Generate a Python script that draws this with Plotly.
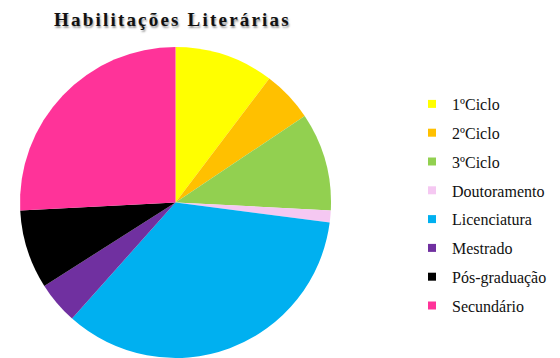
import plotly.graph_objects as go

labels = ["1ºCiclo", "2ºCiclo", "3ºCiclo", "Doutoramento", "Licenciatura",
          "Mestrado", "Pós-graduação", "Secundário"]
values = [10.3, 5.3, 10.2, 1.25, 34.5, 4.4, 8.2, 25.8]
colors = ["#FFFF00", "#FFC000", "#92D050", "#F5C8F2", "#00B0F0",
          "#7030A0", "#000000", "#FF3399"]
title_text = "Habilitações Literárias"

W, H = 560, 358
OFF = 8  # page offset of the figure
cx, cy, r = 175.5 - OFF, 202.5 - OFF, 155.5

fig = go.Figure()
fig.add_trace(go.Pie(
    labels=labels, values=values, sort=False, direction="clockwise", rotation=0,
    marker=dict(colors=colors, line=dict(width=0)),
    textinfo="none", hoverinfo="label+percent", showlegend=False,
    domain=dict(x=[(cx - r) / W, (cx + r) / W], y=[1 - (cy + r) / H, 1 - (cy - r) / H]),
))
for lab, col in zip(labels, colors):
    fig.add_trace(go.Scatter(
        x=[None], y=[None], mode="markers", name=lab, legendgroup=lab,
        marker=dict(symbol="square", size=8, color=col), showlegend=True,
    ))

fig.add_annotation(
    text="<b><span style='letter-spacing:2.2px'>" + title_text + "</span></b>",
    x=(172 - OFF) / W, y=1 - (20 - OFF) / H, xref="paper", yref="paper",
    xanchor="center", yanchor="middle", showarrow=False,
    font=dict(family="Liberation Serif", size=19, color="#111111",
              shadow="1px 2px 2px #999999"),
)

fig.update_layout(
    width=W, height=H, margin=dict(l=0, r=0, t=0, b=0),
    paper_bgcolor="white", plot_bgcolor="white",
    xaxis=dict(visible=False), yaxis=dict(visible=False),
    legend=dict(x=(452 - 40 - OFF) / W, y=1 - (87 - OFF) / H, xanchor="left", yanchor="top",
                font=dict(family="Liberation Serif", size=16, color="#111111"),
                tracegroupgap=5, traceorder="grouped",
                bgcolor="rgba(0,0,0,0)"),
)

fig.write_html("out.html")
